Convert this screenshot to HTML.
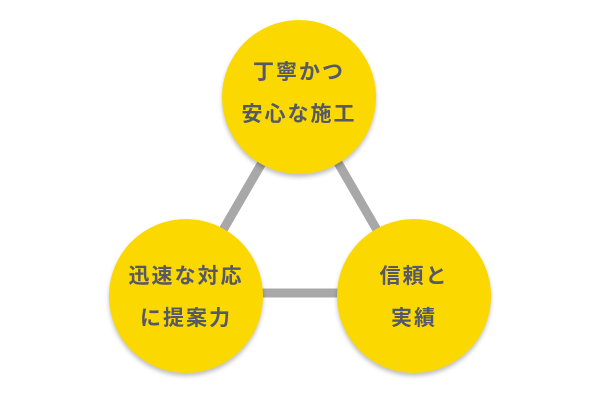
<!DOCTYPE html>
<html><head><meta charset="utf-8"><style>
html,body{margin:0;padding:0;background:#fff;}
body{width:600px;height:400px;position:relative;overflow:hidden;font-family:"Liberation Sans","Noto Sans CJK JP",sans-serif;}
.c{position:absolute;width:154px;height:154px;border-radius:50%;background:#fbd900;box-shadow:0 3px 4px rgba(0,0,0,0.25);}
.t{position:absolute;left:0;width:100%;text-align:center;color:#555866;font-size:21px;font-weight:bold;letter-spacing:2px;line-height:24px;white-space:nowrap;}
</style></head><body>
<svg width="600" height="400" style="position:absolute;left:0;top:0">
<line x1="300" y1="97" x2="186" y2="294" stroke="#a8a8a8" stroke-width="9"/>
<line x1="300" y1="97" x2="414" y2="294" stroke="#a8a8a8" stroke-width="9"/>
<line x1="186" y1="293" x2="414" y2="293" stroke="#a8a8a8" stroke-width="9"/>
</svg>
<div class="c" style="left:222px;top:20px">
<div class="t" style="top:41px">丁寧かつ</div>
<div class="t" style="top:83px">安心な施工</div>
</div>
<div class="c" style="left:109px;top:219px">
<div class="t" style="top:46px">迅速な対応</div>
<div class="t" style="top:88px">に提案力</div>
</div>
<div class="c" style="left:337px;top:219px">
<div class="t" style="top:46px">信頼と</div>
<div class="t" style="top:88px">実績</div>
</div>
</body></html>
